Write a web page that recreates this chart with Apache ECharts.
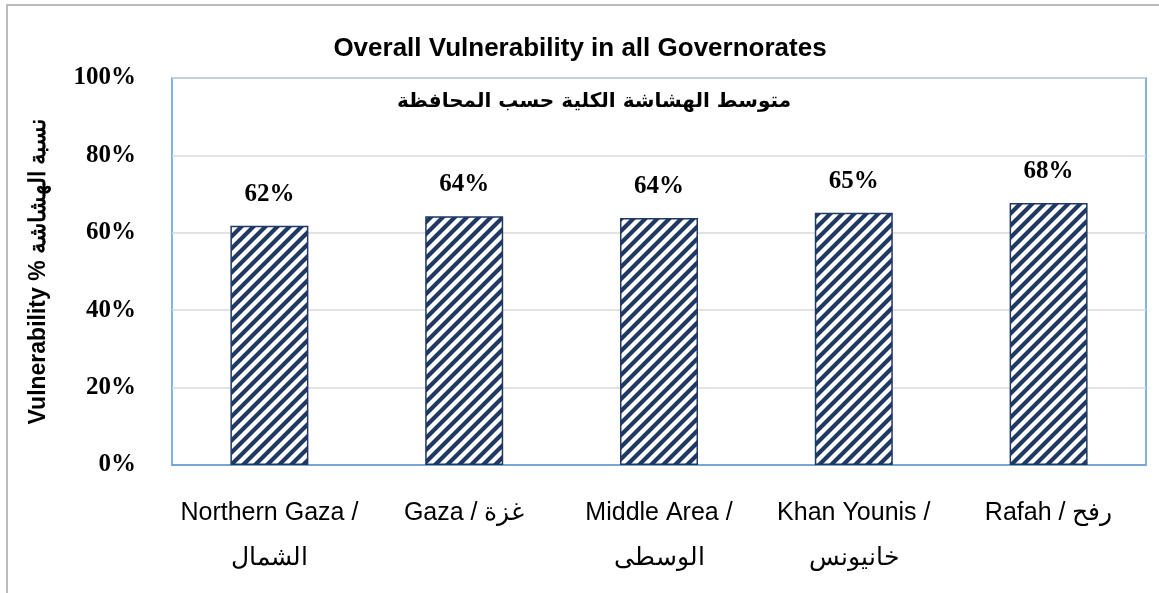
<!DOCTYPE html>
<html>
<head>
<meta charset="utf-8">
<script src="https://cdn.jsdelivr.net/npm/echarts@6/dist/echarts.min.js"></script>
<style>
  html, body { margin: 0; padding: 0; background: #fff; }
  #chart { width: 1159px; height: 593px; }
</style>
</head>
<body>
<div id="chart"></div>
<script>
// governorates (english / arabic)
const categories = [
  'Northern Gaza /\nالشمال',
  'Gaza / غزة',
  'Middle Area /\nالوسطى',
  'Khan Younis /\nخانيونس',
  'Rafah / رفح'
];
// overall vulnerability, %
const vulnerability = [61.8, 64.3, 63.8, 65.2, 67.7];
const yTicks = [0, 20, 40, 60, 80, 100];

// diagonal hatch like the excel "wide upward diagonal" fill
function hatch() {
  const s = 12;
  const c = document.createElement('canvas');
  c.width = s; c.height = s;
  const g = c.getContext('2d');
  g.fillStyle = '#fff';
  g.fillRect(0, 0, s, s);
  g.strokeStyle = '#1F3864';
  g.lineWidth = 4.2;
  g.beginPath();
  g.moveTo(-2, s + 2); g.lineTo(s + 2, -2);
  g.moveTo(-s / 2 - 2, s / 2 + 2); g.lineTo(s / 2 + 2, -s / 2 - 2);
  g.moveTo(s / 2 - 2, s * 1.5 + 2); g.lineTo(s * 1.5 + 2, s / 2 - 2);
  g.stroke();
  return c;
}

const chart = echarts.init(document.getElementById('chart'));

chart.setOption({
  backgroundColor: '#fff',
  animation: false,
  graphic: [{
    type: 'rect',
    shape: { x: 7, y: 5, width: 1200, height: 650 },
    style: { fill: 'none', stroke: '#a6a6a6', lineWidth: 1.5 },
    silent: true
  }, {
    type: 'text',
    x: 580,
    y: 49,
    style: {
      text: 'Overall Vulnerability in all Governorates',
      font: 'bold 26px "Liberation Sans", Arial, sans-serif',
      fill: '#000',
      align: 'center',
      verticalAlign: 'middle'
    }
  }, {
    type: 'text',
    x: 594,
    y: 102,
    style: {
      text: 'متوسط الهشاشة الكلية حسب المحافظة',
      font: 'bold 20px "DejaVu Sans", sans-serif',
      fill: '#000',
      align: 'center',
      verticalAlign: 'middle'
    }
  }],
  grid: {
    left: 172,
    right: 13,
    top: 78,
    bottom: 128,
    show: true,
    borderColor: '#5B9BD5',
    borderWidth: 1.5
  },
  xAxis: {
    type: 'category',
    data: categories,
    axisLine: { show: true, lineStyle: { color: '#5B9BD5', width: 1.5 } },
    axisTick: { show: false },
    axisLabel: {
      margin: 26,
      color: '#000',
      fontSize: 25,
      lineHeight: 45,
      fontFamily: '"Liberation Sans", Arial, sans-serif',
      interval: 0
    }
  },
  yAxis: {
    type: 'value',
    min: yTicks[0],
    max: yTicks[yTicks.length - 1],
    interval: 20,
    name: 'Vulnerability % نسبة الهشاشة',
    nameLocation: 'middle',
    nameGap: 122,
    nameTextStyle: {
      color: '#000',
      fontSize: 23,
      fontWeight: 'bold',
      fontFamily: '"Liberation Sans", Arial, sans-serif'
    },
    axisLine: { show: false },
    axisTick: { show: false },
    splitLine: { lineStyle: { color: '#d9d9d9', width: 1.5 } },
    axisLabel: {
      margin: 36,
      color: '#000',
      fontSize: 25,
      fontWeight: 'bold',
      fontFamily: '"Liberation Serif", "Times New Roman", serif',
      formatter: v => v + '%'
    }
  },
  series: [{
    type: 'bar',
    data: vulnerability,
    barWidth: 78,
    itemStyle: {
      color: { image: hatch(), repeat: 'repeat' },
      borderColor: '#1F3864',
      borderWidth: 1.5
    },
    label: {
      show: true,
      position: 'top',
      distance: 19,
      color: '#000',
      fontSize: 25,
      fontWeight: 'bold',
      fontFamily: '"Liberation Serif", "Times New Roman", serif',
      formatter: p => Math.round(p.value) + '%'
    }
  }]
});
</script>
</body>
</html>
